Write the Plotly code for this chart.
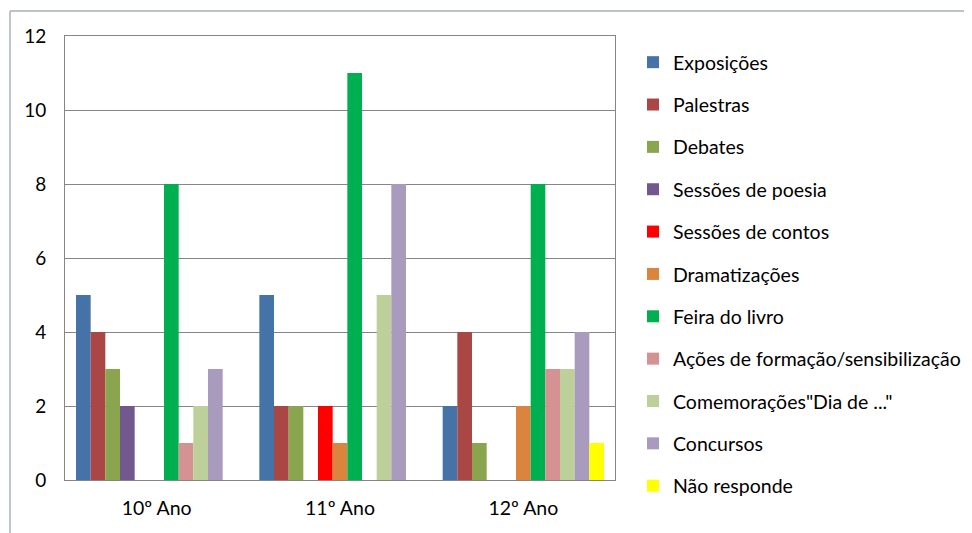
import plotly.graph_objects as go

categories = ["10º Ano", "11º Ano", "12º Ano"]
series_names = [
    "Exposições", "Palestras", "Debates", "Sessões de poesia", "Sessões de contos",
    "Dramatizações", "Feira do livro", "Ações de formação/sensibilização",
    "Comemorações\"Dia de ...\"", "Concursos", "Não responde",
]
exposicoes = [5, 5, 2]
palestras = [4, 2, 4]
debates = [3, 2, 1]
poesia = [2, 0, 0]
contos = [0, 2, 0]
dramatizacoes = [0, 1, 2]
feira = [8, 11, 8]
acoes = [1, 0, 3]
comemoracoes = [2, 5, 3]
concursos = [3, 8, 4]
nao_responde = [0, 0, 1]
series_values = [exposicoes, palestras, debates, poesia, contos, dramatizacoes,
                 feira, acoes, comemoracoes, concursos, nao_responde]
colors = ["#4572A7", "#AA4643", "#89A54E", "#71588F", "#FF0000", "#DB843D",
          "#00B050", "#D49392", "#BDD09A", "#A99BBD", "#FFFF00"]
y_ticks = [0, 2, 4, 6, 8, 10, 12]

FONT = "Lato"
fig = go.Figure()
for i, (name, vals, col) in enumerate(zip(series_names, series_values, colors)):
    fig.add_trace(go.Bar(
        x=categories, y=vals, name=name, marker=dict(color=col, line=dict(width=0)),
        legendgroup=f"g{i}",
    ))

# page has an 8px body margin, so the figure is drawn 8px smaller
W, H = 964, 525
L, R, T, B = 57, 357, 28, 53
pw, ph = W - L - R, H - T - B

def px(x):
    return (x - L) / pw

def py(y):
    return (H - B - y) / ph

fig.update_layout(
    width=W, height=H,
    margin=dict(l=L, r=R, t=T, b=B, autoexpand=False),
    paper_bgcolor="white", plot_bgcolor="white",
    barmode="group", bargap=0.12, bargroupgap=0,
    font=dict(family=FONT, size=19, color="#000000"),
    showlegend=True,
    legend=dict(
        x=px(625), xanchor="left", y=py(35), yanchor="top",
        tracegroupgap=14, itemwidth=30, maxheight=600,
        font=dict(family=FONT, size=19.5, color="#000000"),
        bgcolor="rgba(0,0,0,0)",
    ),
    xaxis=dict(
        showgrid=False, showline=True, linecolor="#868686", linewidth=1, mirror=True,
        ticks="", ticklabelstandoff=11, tickfont=dict(family=FONT, size=19.5),
    ),
    yaxis=dict(
        range=[0, 12], tickvals=y_ticks, showgrid=True, gridcolor="#868686", gridwidth=1,
        showline=True, linecolor="#868686", linewidth=1, mirror=True, zeroline=False,
        ticks="", ticklabelstandoff=14, tickfont=dict(family=FONT, size=19),
    ),
    shapes=[
        dict(type="line", xref="paper", yref="paper", x0=px(2), x1=px(964), y0=py(3), y1=py(3),
             line=dict(color="#A8B0B0", width=1.5)),
        dict(type="line", xref="paper", yref="paper", x0=px(2), x1=px(2), y0=py(3), y1=py(525),
             line=dict(color="#A8B4B4", width=1.5)),
    ],
)
fig.write_html("out.html")
